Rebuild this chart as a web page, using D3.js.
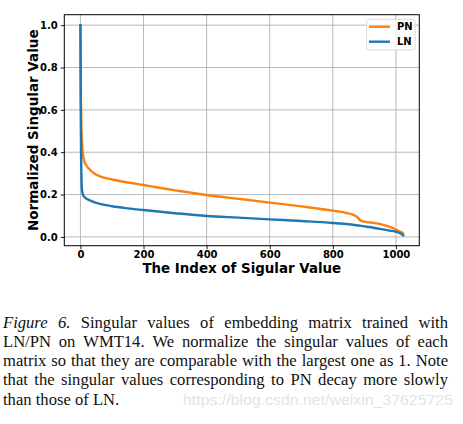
<!DOCTYPE html>
<html><head><meta charset="utf-8">
<script src="https://cdn.jsdelivr.net/npm/d3@7"></script>
<style>html,body{margin:0;padding:0;background:#fff;}svg{display:block;}</style>
</head><body>
<svg id="c" width="463" height="424"></svg>
<script>
const seriesNames = ["PN", "LN"];
const seriesColors = ["#ff7f0e", "#1f77b4"];
const pnIndex = [0, 1, 2, 3, 5, 8, 12, 20, 31, 45, 62, 100, 150, 200, 250, 300, 350, 400, 500, 600, 700, 800, 840, 865, 878, 886, 900, 930, 960, 985, 1002, 1015, 1023];
const pnValue = [1.0, 0.75, 0.6, 0.52, 0.45, 0.39, 0.36, 0.335, 0.316, 0.298, 0.286, 0.271, 0.257, 0.245, 0.232, 0.22, 0.209, 0.198, 0.18, 0.162, 0.144, 0.124, 0.114, 0.104, 0.094, 0.08, 0.072, 0.066, 0.057, 0.045, 0.033, 0.024, 0.017];
const lnIndex = [0, 1, 2, 3, 5, 8, 12, 20, 31, 45, 62, 100, 150, 200, 300, 400, 500, 600, 700, 800, 850, 907, 950, 980, 1002, 1015, 1023];
const lnValue = [1.0, 0.6, 0.4, 0.3, 0.22, 0.2, 0.19, 0.18, 0.172, 0.163, 0.156, 0.145, 0.135, 0.127, 0.112, 0.099, 0.091, 0.083, 0.075, 0.066, 0.06, 0.048, 0.038, 0.03, 0.024, 0.016, 0.008];
const xTicks = [0, 200, 400, 600, 800, 1000];
const yTicks = [0.0, 0.2, 0.4, 0.6, 0.8, 1.0];
const xLabel = "The Index of Sigular Value";
const yLabel = "Normalized Singular Value";
const captionLines = [
  [{t:"Figure 6.", it:true}, {t:"Singular values of embedding matrix trained with"}],
  [{t:"LN/PN on WMT14.  We normalize the singular values of each"}],
  [{t:"matrix so that they are comparable with the largest one as 1. Note"}],
  [{t:"that the singular values corresponding to PN decay more slowly"}],
  [{t:"than those of LN."}]
];
const watermark = "https://blog.csdn.net/weixin_37625725";

const svg = d3.select("#c");
const L = 64.3, R = 419.3, T = 14.7, B = 245.7;
const x = d3.scaleLinear().domain([-51.15, 1074.15]).range([L, R]);
const y = d3.scaleLinear().domain([-0.0415, 1.0495]).range([B, T]);

// grid
const g = svg.append("g");
g.selectAll(".gx").data(xTicks).join("line")
  .attr("x1", d => x(d)).attr("x2", d => x(d)).attr("y1", T).attr("y2", B)
  .attr("stroke", "#b0b0b0").attr("stroke-width", 0.9);
g.selectAll(".gy").data(yTicks).join("line")
  .attr("y1", d => y(d)).attr("y2", d => y(d)).attr("x1", L).attr("x2", R)
  .attr("stroke", "#b0b0b0").attr("stroke-width", 0.9);

// lines
const line = d3.line().x(d => x(d[0])).y(d => y(d[1])).curve(d3.curveMonotoneX);
const series = [d3.zip(pnIndex, pnValue), d3.zip(lnIndex, lnValue)];
series.forEach((s, i) => {
  svg.append("path").datum(s).attr("d", line).attr("fill", "none")
    .attr("stroke", seriesColors[i]).attr("stroke-width", 2.4)
    .attr("stroke-linejoin", "round").attr("stroke-linecap", "square");
});

// axes
const tickFont = "'DejaVu Sans', sans-serif";
const xa = svg.append("g").attr("transform", `translate(0,${B})`)
  .call(d3.axisBottom(x).tickValues(xTicks).tickFormat(d3.format("d")).tickSize(3.5).tickPadding(2));
const ya = svg.append("g").attr("transform", `translate(${L},0)`)
  .call(d3.axisLeft(y).tickValues(yTicks).tickFormat(d3.format(".1f")).tickSize(3.5).tickPadding(3));
[xa, ya].forEach(a => {
  a.select(".domain").remove();
  a.selectAll("text").attr("font-family", tickFont).attr("font-weight", "bold").attr("font-size", 10).attr("fill", "#000");
  a.selectAll("line").attr("stroke", "#000").attr("stroke-width", 0.9);
});
svg.append("rect").attr("x", L).attr("y", T).attr("width", R - L).attr("height", B - T)
  .attr("fill", "none").attr("stroke", "#000").attr("stroke-width", 1);

svg.append("text").attr("x", (L + R) / 2).attr("y", 272.5).attr("text-anchor", "middle")
  .attr("font-family", tickFont).attr("font-weight", "bold").attr("font-size", 13.4).text(xLabel);
svg.append("text").attr("transform", `translate(38,${(T + B) / 2}) rotate(-90)`).attr("text-anchor", "middle")
  .attr("font-family", tickFont).attr("font-weight", "bold").attr("font-size", 13.5).text(yLabel);

// legend
const lg = svg.append("g");
lg.append("rect").attr("x", 366.7).attr("y", 19.3).attr("width", 48.3).attr("height", 30.7).attr("rx", 2.5)
  .attr("fill", "#fff").attr("fill-opacity", 0.8).attr("stroke", "#d6d6d6").attr("stroke-width", 0.9);
seriesNames.forEach((n, i) => {
  const yy = 26.7 + i * 15;
  lg.append("line").attr("x1", 369).attr("x2", 390).attr("y1", yy).attr("y2", yy)
    .attr("stroke", seriesColors[i]).attr("stroke-width", 2.4);
  lg.append("text").attr("x", 397).attr("y", yy + 3.6).attr("font-family", tickFont)
    .attr("font-weight", "bold").attr("font-size", 10).text(n);
});

// caption (justified)
const capFont = "'Liberation Serif', 'Times New Roman', serif";
const capSize = 16.6, capL = 3, capR = 448;
captionLines.forEach((segs, li) => {
  const by = 327.5 + li * 19.3;
  const words = [];
  segs.forEach(s => s.t.split(/\s+/).forEach(w => words.push({w, it: !!s.it})));
  const nodes = words.map(wd => svg.append("text").attr("y", by).attr("font-family", capFont)
    .attr("font-size", capSize).attr("font-style", wd.it ? "italic" : "normal").attr("fill", "#111").text(wd.w));
  const widths = nodes.map(n => n.node().getComputedTextLength());
  const total = d3.sum(widths);
  const last = li === captionLines.length - 1;
  let gap = last ? capSize * 0.25 : (capR - capL - total) / (words.length - 1);
  if (gap < 2) gap = 2;
  let cx = capL;
  nodes.forEach((n, i) => { n.attr("x", cx); cx += widths[i] + gap; });
});
svg.append("text").attr("x", 183).attr("y", 404.7).attr("font-family", "'Liberation Sans', Arial, sans-serif")
  .attr("font-size", 15).attr("fill", "#e4e4e4").attr("textLength", 270).attr("lengthAdjust", "spacingAndGlyphs").text(watermark);
</script>
</body></html>
